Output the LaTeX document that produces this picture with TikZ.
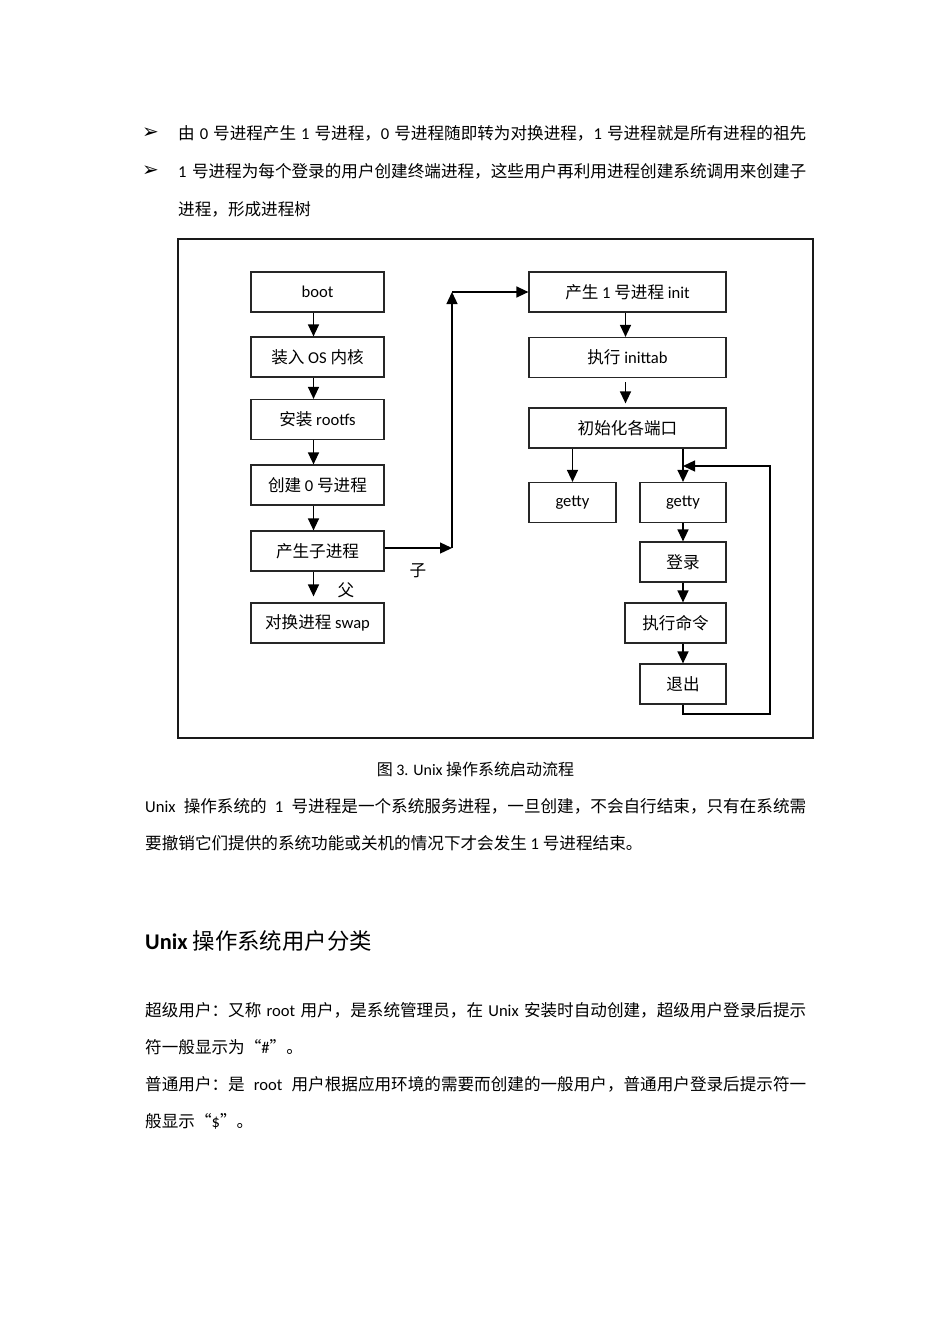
\documentclass[tikz,border=0pt]{standalone}
\usepackage{fontspec}
\setmainfont{Noto Sans CJK SC}
\newfontfamily\lat{Carlito}
\newfontfamily\sym{DejaVu Sans}
\XeTeXlinebreaklocale "zh"
\XeTeXlinebreakskip=0pt plus 2pt
\usetikzlibrary{arrows.meta}
\tikzstyle{proc}=[rectangle,draw=black!85,line width=1.2pt,minimum height=40pt,inner sep=0pt,font=\fontsize{16.6}{18}\selectfont]
\tikzstyle{txt}=[anchor=west,inner sep=0pt,font=\fontsize{16.6}{18}\selectfont]
\tikzstyle{flow}=[-{Triangle[length=12pt,width=11pt]},line width=1.3pt]
\newcommand{\fullline}[2]{\makebox[#1][s]{#2}}

\begin{document}
\begin{tikzpicture}[x=1pt,y=-1pt]
	\useasboundingbox (0,0) rectangle (950,1344);
	\fill[white] (0,0) rectangle (950,1344);

	% text above the figure
	\node[txt,font=\sym\fontsize{20}{22}\selectfont] (b1) at (142,133) {➢};
	\node[txt,font=\sym\fontsize{20}{22}\selectfont] (b2) at (142,171) {➢};
	\node[txt] (l1) at (178,133) {\fullline{628pt}{由 {\lat 0} 号进程产生 {\lat 1} 号进程，{\lat 0} 号进程随即转为对换进程，{\lat 1} 号进程就是所有进程的祖先}};
	\node[txt] (l2) at (178,171) {\fullline{628pt}{{\lat 1} 号进程为每个登录的用户创建终端进程，这些用户再利用进程创建系统调用来创建子}};
	\node[txt] (l3) at (178,209) {进程，形成进程树};

	% frame
	\draw[black!90,line width=1.5pt] (178,239) rectangle (813,738);

	% left column
	\node[proc,minimum width=133pt] (boot) at (317.5,292) {\lat boot};
	\node[proc,minimum width=133pt] (kern) at (317.5,357) {装入 {\lat OS} 内核};
	\node[proc,minimum width=133pt] (rootfs) at (317.5,419.5) {安装 {\lat rootfs}};
	\node[proc,minimum width=133pt] (zero) at (317.5,485) {创建 {\lat 0} 号进程};
	\node[proc,minimum width=133pt] (child) at (317.5,551) {产生子进程};
	\node[proc,minimum width=133pt] (swap) at (317.5,623) {对换进程 {\lat swap}};

	\draw[flow] ([xshift=-4pt]boot.south) -- ([xshift=-4pt]kern.north);
	\draw[flow] ([xshift=-4pt]kern.south) -- ([xshift=-4pt]rootfs.north);
	\draw[flow] ([xshift=-4pt]rootfs.south) -- ([xshift=-4pt]zero.north);
	\draw[flow] ([xshift=-4pt]zero.south) -- ([xshift=-4pt]child.north);
	\draw[flow] ([xshift=-4pt]child.south) -- ([xshift=-4pt,yshift=6pt]swap.north);

	\node[txt,anchor=center] (fu) at (346,590) {父};
	\node[txt,anchor=center] (zi) at (418,571) {子};

	% right column
	\node[proc,minimum width=197pt] (init) at (627.5,292) {产生 {\lat 1} 号进程 {\lat init}};
	\node[proc,minimum width=197pt] (tab) at (627.5,357.5) {执行 {\lat inittab}};
	\node[proc,minimum width=197pt] (ports) at (627.5,428) {初始化各端口};
	\node[proc,minimum width=87pt] (getty1) at (572.5,502.5) {\lat getty};
	\node[proc,minimum width=86pt] (getty2) at (683,502.5) {\lat getty};
	\node[proc,minimum width=86pt] (login) at (683,562) {登录};
	\node[proc,minimum width=101pt] (cmd) at (675.5,623) {执行命令};
	\node[proc,minimum width=86pt] (quit) at (683,684) {退出};

	\coordinate (c1) at (452,548);
	\coordinate (c2) at (452,292);
	\draw[flow] (child.east |- c1) -- (c1);
	\draw[flow] (c1) -- (c2);
	\draw[flow] (c2) -- (c2 -| init.west);

	\draw[flow] ([xshift=-2pt]init.south) -- ([xshift=-2pt]tab.north);
	\draw[flow] ([xshift=-2pt,yshift=-4pt]tab.south) -- ([xshift=-2pt,yshift=4pt]ports.north);
	\draw[flow] (ports.south -| getty1) -- (getty1.north);
	\draw[flow] (ports.south -| getty2) -- (getty2.north);
	\draw[flow] (getty2) -- (login);
	\draw[flow] (login.south) -- (login.south |- cmd.north);
	\draw[flow] (cmd.south -| quit) -- (quit.north);

	\coordinate (r1) at (770,714);
	\coordinate (r2) at (770,466);
	\draw[flow] (quit.south) |- (r1) -- (r2) -- (r2 -| getty2.north);

	% text below the figure
	\node[txt,anchor=center,font=\fontsize{16}{18}\selectfont] (cap) at (475.5,769) {图 {\lat 3. Unix} 操作系统启动流程};
	\node[txt] (p1) at (145,806) {\fullline{661pt}{{\lat Unix} 操作系统的 {\lat 1} 号进程是一个系统服务进程，一旦创建，不会自行结束，只有在系统需}};
	\node[txt] (p2) at (145,843) {要撤销它们提供的系统功能或关机的情况下才会发生 {\lat 1} 号进程结束。};

	\node[txt,font=\fontsize{22.4}{26}\selectfont] (head) at (145,941) {{\lat\bfseries Unix} 操作系统用户分类};

	\node[txt] (s1) at (145,1010) {\fullline{661pt}{超级用户：又称 {\lat root} 用户，是系统管理员，在 {\lat Unix} 安装时自动创建，超级用户登录后提示}};
	\node[txt] (s2) at (145,1047) {符一般显示为“{\lat\#}”。};
	\node[txt] (s3) at (145,1084) {\fullline{661pt}{普通用户：是 {\lat root} 用户根据应用环境的需要而创建的一般用户，普通用户登录后提示符一}};
	\node[txt] (s4) at (145,1121) {般显示“{\lat\$}”。};
\end{tikzpicture}
\end{document}
